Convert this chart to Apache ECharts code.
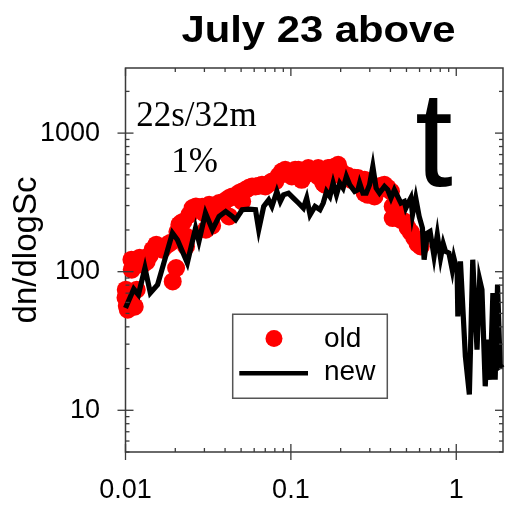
<!DOCTYPE html>
<html>
<head>
<meta charset="utf-8">
<script src="https://cdn.jsdelivr.net/npm/echarts@6/dist/echarts.min.js"></script>
<style>
  html, body { margin: 0; padding: 0; background: #fff; }
  #chart { width: 506px; height: 507px; }
</style>
</head>
<body>
<div id="chart"></div>
<script>
// Size distribution dn/dlogSc versus critical supersaturation Sc (%)

// "old" retrieval (red dots)
const oldX = [0.0100, 0.01004, 0.01018, 0.01032, 0.01061, 0.01086, 0.01091, 0.01137, 0.01169, 0.01218,
  0.01270, 0.01342, 0.01399, 0.01458, 0.01535, 0.01606, 0.01674, 0.01721, 0.01794, 0.0187,
  0.0193, 0.02023, 0.0206, 0.02117, 0.02168, 0.02238, 0.02323, 0.02323, 0.0243, 0.02543,
  0.02667, 0.02791, 0.02909, 0.0299, 0.03062, 0.03205, 0.03205, 0.03341, 0.03482, 0.03679,
  0.03851, 0.03998, 0.04225, 0.04225, 0.04422, 0.04627, 0.04849, 0.05076, 0.05076, 0.05318,
  0.05568, 0.05829, 0.06107, 0.06394, 0.06688, 0.07013, 0.07339, 0.07683, 0.08052, 0.08426,
  0.08818, 0.09244, 0.09673, 0.1013, 0.1061, 0.1111, 0.1162, 0.1218, 0.1275, 0.1335,
  0.1399, 0.1464, 0.1464, 0.1569, 0.1606, 0.1642, 0.1681, 0.1752, 0.1844, 0.1931,
  0.1931, 0.2013, 0.2117, 0.2216, 0.2319, 0.243, 0.2544, 0.2605, 0.2791, 0.2791,
  0.2922, 0.3058, 0.3204, 0.3354, 0.3511, 0.3679, 0.3850, 0.4031, 0.4127, 0.4127,
  0.4318, 0.4420, 0.4627, 0.4850, 0.5076, 0.5314, 0.5568, 0.5829, 0.6102];
const oldY = [64.9, 74.1, 56.9, 53.2, 62.8, 122, 103.4, 55.9, 74.1, 126.2,
  112.3, 118, 130.5, 144.1, 156.6, 148.9, 144.1, 152.2, 156.6, 161.8,
  85.1, 106.3, 194.2, 218.3, 224.4, 229.4, 179.7, 152.2, 257.6, 288,
  295.8, 280, 294.2, 265, 201, 304, 250.6, 214.7, 294.2, 312.7,
  304, 325, 340, 250.6, 349, 347, 369, 379.3, 321, 390,
  403.4, 412, 412, 416.9, 424, 412, 431, 447.7, 447.7, 492.2,
  528.5, 543.8, 508.8, 486.5, 543.8, 543.8, 460.4, 500.4, 559.4, 543.8,
  543.8, 559.4, 486.5, 436, 424, 528.5, 559.4, 562, 571.5, 590.8,
  500.4, 526, 500.4, 492.2, 460.4, 476.2, 473.9, 424, 460.4, 369,
  359, 390, 349, 390, 416.9, 424, 403.4, 379.3, 295.8, 243.9,
  270.8, 288, 237, 230.6, 207.6, 192.7, 175.8, 159.2, 152.2];

// "new" retrieval (black line)
const newX = [0.0100, 0.01122, 0.01197, 0.01311, 0.01413, 0.01563, 0.01923, 0.0206, 0.02365, 0.02652,
  0.0278, 0.03045, 0.03354, 0.03679, 0.04036, 0.04422, 0.04634, 0.05076, 0.05567, 0.0611,
  0.0639, 0.0685, 0.0734, 0.0768, 0.0823, 0.0863, 0.0903, 0.0967, 0.1036, 0.1111,
  0.1190, 0.1246, 0.1306, 0.1399, 0.1499, 0.1569, 0.1642, 0.1721, 0.1801, 0.1886,
  0.1976, 0.2069, 0.2165, 0.2268, 0.2430, 0.2544, 0.2605, 0.2727, 0.2854, 0.2991,
  0.3130, 0.3276, 0.3434, 0.368, 0.3850, 0.403, 0.4225, 0.442, 0.4627, 0.485,
  0.4958, 0.5125, 0.531, 0.5438, 0.569, 0.5966, 0.6245, 0.6393, 0.669, 0.6944,
  0.734, 0.768, 0.8037, 0.8343, 0.8614, 0.9029, 0.9451, 0.9674, 1.0125, 1.022,
  1.06, 1.135, 1.2, 1.258, 1.335, 1.385, 1.43, 1.497, 1.547, 1.604,
  1.665, 1.719, 1.777, 1.842, 1.911];
const newY = [54.7, 75.0, 68.2, 106.4, 70.2, 80.6, 190, 170, 115.6, 206.5,
  165.3, 265, 200.9, 250.6, 272, 250.6, 237, 280, 283, 280,
  201, 295.8, 330, 296, 379, 321, 359, 369, 340, 313,
  288, 340, 257.6, 296, 280, 313, 379, 349, 436, 359,
  436, 401, 486, 424, 379, 390, 436, 369, 369, 424,
  574, 401, 369, 412, 390, 340, 390, 349, 313, 321,
  288, 313, 340, 257.6, 340, 250.6, 206.5, 122, 190, 195.3,
  128.9, 184.9, 125.6, 159, 140, 136.4, 103.4, 125.6, 100.5, 47.6,
  118.7, 24.5, 13.0, 122, 27.4, 87.6, 74.2, 14.9, 32.3, 16.6,
  70.2, 16.6, 80.6, 20.8, 21.5];

// Axis ranges and ticks
const X_MIN = 0.01, X_MAX = 1.917;
const Y_MIN = 5, Y_MAX = 2950;
const xTickLabels = ['0.01', '0.1', '1'];
const yTickLabels = ['10', '100', '1000'];
const xMajor = [0.01, 0.1, 1];
const xMinor = [0.02, 0.03, 0.04, 0.05, 0.06, 0.07, 0.08, 0.09,
                0.2, 0.3, 0.4, 0.5, 0.6, 0.7, 0.8, 0.9];
const yMajor = [10, 100, 1000];
const yMinor = [5, 6, 7, 8, 9, 20, 30, 40, 50, 60, 70, 80, 90,
                200, 300, 400, 500, 600, 700, 800, 900, 2000];

const AXIS_COLOR = '#3a3a3a';
const SANS = '"Liberation Sans", Arial, Helvetica, sans-serif';
const SERIF = '"Liberation Serif", "Times New Roman", serif';

const oldData = oldX.map((x, i) => [x, oldY[i]]);
const newData = newX.map((x, i) => [x, newY[i]]);
const xTickData = xMajor.map(v => [v, Y_MIN, 1]).concat(xMinor.map(v => [v, Y_MIN, 0]));
const yTickData = yMajor.map(v => [X_MIN, v, 1]).concat(yMinor.map(v => [X_MIN, v, 0]));

function labelFor(list) {
  return function (v) {
    const s = String(+Number(v).toPrecision(6));
    return list.indexOf(s) >= 0 ? s : '';
  };
}

function tickStyle() {
  return { stroke: AXIS_COLOR, lineWidth: 1.3 };
}

// Ticks on bottom and top edges (majors cross the bottom axis)
function renderXTick(params, api) {
  const cs = params.coordSys;
  const px = api.coord([api.value(0), Y_MIN])[0];
  const major = api.value(2) === 1;
  const inner = major ? 8 : 4;
  const outer = major ? 8 : 0;
  const bottom = cs.y + cs.height, top = cs.y;
  return {
    type: 'group',
    children: [
      { type: 'line', shape: { x1: px, y1: bottom + outer, x2: px, y2: bottom - inner }, style: tickStyle() },
      { type: 'line', shape: { x1: px, y1: top, x2: px, y2: top + inner }, style: tickStyle() }
    ]
  };
}

// Ticks on left and right edges (majors cross the left axis)
function renderYTick(params, api) {
  const cs = params.coordSys;
  const py = api.coord([X_MIN, api.value(1)])[1];
  const major = api.value(2) === 1;
  const inner = major ? 8 : 4;
  const outer = major ? 8 : 0;
  const left = cs.x, right = cs.x + cs.width;
  return {
    type: 'group',
    children: [
      { type: 'line', shape: { x1: left - outer, y1: py, x2: left + inner, y2: py }, style: tickStyle() },
      { type: 'line', shape: { x1: right, y1: py, x2: right - inner, y2: py }, style: tickStyle() }
    ]
  };
}

const chart = echarts.init(document.getElementById('chart'), null, { renderer: 'canvas' });

chart.setOption({
  animation: false,
  backgroundColor: '#fff',
  grid: {
    left: 125.5, top: 68, right: 0, bottom: 55,
    show: true, borderColor: AXIS_COLOR, borderWidth: 1.5, backgroundColor: 'transparent'
  },
  xAxis: {
    type: 'log', logBase: 10, min: X_MIN, max: X_MAX,
    axisLine: { show: false }, axisTick: { show: false }, splitLine: { show: false },
    axisLabel: { fontSize: 27, color: '#000', fontFamily: SANS, margin: 25, formatter: labelFor(xTickLabels) }
  },
  yAxis: {
    type: 'log', logBase: 10, min: Y_MIN, max: Y_MAX,
    axisLine: { show: false }, axisTick: { show: false }, splitLine: { show: false },
    axisLabel: { fontSize: 27, color: '#000', fontFamily: SANS, margin: 25.5, formatter: labelFor(yTickLabels) }
  },
  series: [
    {
      name: 'old', type: 'scatter', data: oldData, symbol: 'circle', symbolSize: 18,
      itemStyle: { color: '#ff0000', opacity: 1 }, clip: false, z: 2, silent: true
    },
    {
      name: 'new', type: 'line', data: newData, showSymbol: false, symbol: 'none',
      lineStyle: { color: '#000', width: 5.2, join: 'miter' }, z: 3, silent: true
    },
    {
      type: 'custom', data: xTickData, encode: { x: 0, y: 1 }, renderItem: renderXTick,
      clip: false, silent: true, z: 4
    },
    {
      type: 'custom', data: yTickData, encode: { x: 0, y: 1 }, renderItem: renderYTick,
      clip: false, silent: true, z: 4
    }
  ],
  graphic: [
    {
      type: 'text', x: 318.5, y: 32, scaleX: 1.13, z: 100,
      style: { text: 'July 23 above', font: 'bold 37px ' + SANS, fill: '#000', align: 'center', verticalAlign: 'middle' }
    },
    {
      type: 'text', x: 27, y: 250, rotation: Math.PI / 2, z: 100,
      style: { text: 'dn/dlogSc', font: '33px ' + SANS, fill: '#000', align: 'center', verticalAlign: 'middle' }
    },
    {
      type: 'text', x: 196.5, y: 117, z: 100,
      style: { text: '22s/32m', font: '35px ' + SERIF, fill: '#000', align: 'center', verticalAlign: 'middle' }
    },
    {
      type: 'text', x: 194.5, y: 163, z: 100,
      style: { text: '1%', font: '35px ' + SERIF, fill: '#000', align: 'center', verticalAlign: 'middle' }
    },
    {
      type: 'text', x: 434, y: 148, z: 100,
      style: { text: 't', font: '136px ' + SANS, fill: '#000', align: 'center', verticalAlign: 'middle' }
    },
    // legend
    {
      type: 'rect', z: 100,
      shape: { x: 232.7, y: 314.3, width: 154.6, height: 84 },
      style: { fill: '#fff', stroke: '#555', lineWidth: 1.5 }
    },
    {
      type: 'circle', z: 101,
      shape: { cx: 274, cy: 338.5, r: 8.5 },
      style: { fill: '#ff0000' }
    },
    {
      type: 'line', z: 101,
      shape: { x1: 239.3, y1: 373.3, x2: 308, y2: 373.3 },
      style: { stroke: '#000', lineWidth: 4.5 }
    },
    {
      type: 'text', x: 324, y: 339, z: 101,
      style: { text: 'old', font: '28px ' + SANS, fill: '#000', align: 'left', verticalAlign: 'middle' }
    },
    {
      type: 'text', x: 324, y: 372.5, z: 101,
      style: { text: 'new', font: '28px ' + SANS, fill: '#000', align: 'left', verticalAlign: 'middle' }
    }
  ]
});
</script>
</body>
</html>
